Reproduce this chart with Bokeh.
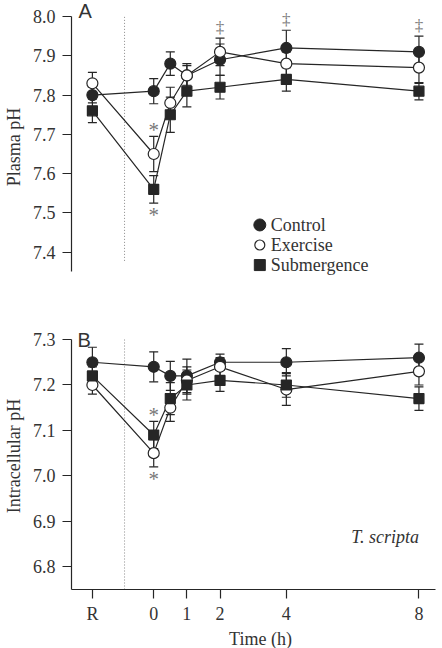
from bokeh.plotting import figure
from bokeh.layouts import column
from bokeh.models import (ColumnDataSource, Whisker, TeeHead, Label,
                          FixedTicker, PrintfTickFormatter)
from bokeh.core.properties import value
from bokeh.embed import file_html
from bokeh.resources import INLINE

# Sampling times after exercise/submergence (h); the resting sample "R" sits left of 0
hours = [0, 0.5, 1, 2, 4, 8]
REST_X = -1.85          # axis position of the resting sample
DIVIDER_X = -0.88       # dotted separator between rest and recovery
x_tick_values = [REST_X, 0, 1, 2, 4, 8]
x_tick_text = ["R", "0", "1", "2", "4", "8"]
X_RANGE = (-2.48, 8.65)

# Panel A: plasma pH (mean and s.e.m.), first value = rest
plasma_control = [7.80, 7.81, 7.88, 7.85, 7.89, 7.92, 7.91]
plasma_control_err = [0.02, 0.032, 0.03, 0.03, 0.04, 0.045, 0.04]
plasma_exercise = [7.83, 7.65, 7.78, 7.85, 7.91, 7.88, 7.87]
plasma_exercise_err = [0.028, 0.045, 0.04, 0.025, 0.035, 0.03, 0.04]
plasma_submergence = [7.76, 7.56, 7.75, 7.81, 7.82, 7.84, 7.81]
plasma_submergence_err = [0.03, 0.035, 0.045, 0.04, 0.03, 0.03, 0.022]

# Panel B: intracellular pH
intra_control = [7.25, 7.24, 7.22, 7.22, 7.25, 7.25, 7.26]
intra_control_err = [0.033, 0.033, 0.032, 0.037, 0.018, 0.03, 0.03]
intra_exercise = [7.20, 7.05, 7.15, 7.21, 7.24, 7.19, 7.23]
intra_exercise_err = [0.02, 0.03, 0.03, 0.03, 0.02, 0.035, 0.03]
intra_submergence = [7.22, 7.09, 7.17, 7.20, 7.21, 7.20, 7.17]
intra_submergence_err = [0.02, 0.03, 0.035, 0.033, 0.024, 0.027, 0.026]

plasma_ticks = [7.4, 7.5, 7.6, 7.7, 7.8, 7.9, 8.0]
intra_ticks = [6.8, 6.9, 7.0, 7.1, 7.2, 7.3]

# Significance marks: (series, time index, side)
plasma_stars = [("Exercise", 1, "above"), ("Submergence", 1, "below")]
intra_stars = [("Submergence", 1, "above"), ("Exercise", 1, "below")]
plasma_dagger_times = [2, 4, 8]

SERIF = "Liberation Serif"
INK = "#262626"
TEXT = "#333333"
MARK_GREY = "#777777"
xs = [REST_X] + hours


def style_axis(a):
    a.axis_line_color = INK
    a.axis_line_width = 1.2
    a.major_tick_line_color = INK
    a.major_tick_line_width = 1.2
    a.major_tick_out = 9
    a.major_tick_in = 0
    a.minor_tick_line_color = None
    a.major_label_text_font = SERIF
    a.major_label_text_font_size = "18px"
    a.major_label_text_color = TEXT
    a.axis_label_text_font = SERIF
    a.axis_label_text_font_size = "18px"
    a.axis_label_text_font_style = "normal"
    a.axis_label_text_color = TEXT


def make_panel(height, y_range, y_bounds, ticks, label, border_top,
               border_bottom, with_x_axis):
    p = figure(width=442, height=height, x_range=X_RANGE, y_range=y_range,
               output_backend="svg", toolbar_location=None,
               x_axis_location="below" if with_x_axis else None,
               min_border_left=69, min_border_right=2,
               min_border_top=border_top, min_border_bottom=border_bottom)
    p.outline_line_color = None
    p.grid.visible = False
    p.background_fill_color = "white"
    p.border_fill_color = "white"

    ax = p.yaxis[0]
    style_axis(ax)
    ax.bounds = y_bounds
    ax.ticker = FixedTicker(ticks=ticks)
    ax.formatter = PrintfTickFormatter(format="%.1f")
    ax.axis_label = label
    ax.major_label_standoff = 7
    ax.axis_label_standoff = 6
    if with_x_axis:
        xa = p.xaxis[0]
        style_axis(xa)
        xa.bounds = (X_RANGE[0], 8.5)
        xa.ticker = FixedTicker(ticks=x_tick_values)
        xa.major_label_overrides = {v: t for v, t in zip(x_tick_values, x_tick_text)}
        xa.major_label_standoff = 5
    return p


def draw_series(p, series, y_lo, y_hi):
    # dotted separator between the resting sample and the recovery period
    p.segment(x0=[DIVIDER_X], y0=[y_lo], x1=[DIVIDER_X], y1=[y_hi],
              line_color="#8a8a8a", line_width=1, line_dash="1 2")
    sources = {}
    for name, vals, errs, marker, fill in series:
        src = ColumnDataSource(dict(
            x=xs, y=vals,
            upper=[v + e for v, e in zip(vals, errs)],
            lower=[v - e for v, e in zip(vals, errs)]))
        sources[name] = src
        p.line("x", "y", source=src, line_color=INK, line_width=1.2)
    for name, vals, errs, marker, fill in series:
        w = Whisker(source=sources[name], base="x", upper="upper", lower="lower",
                    line_color=INK, line_width=1.2, level="underlay",
                    upper_head=TeeHead(size=9, line_color=INK, line_width=1.2),
                    lower_head=TeeHead(size=9, line_color=INK, line_width=1.2))
        p.add_layout(w)
    for name, vals, errs, marker, fill in series:
        size = 11 if marker == "circle" else 10
        p.scatter("x", "y", source=sources[name], marker=marker, size=size,
                  fill_color=fill, line_color=INK, line_width=1.2)
    return sources


def draw_stars(p, sources, stars):
    sx, sy, off = [], [], []
    for name, i, side in stars:
        d = sources[name].data
        sx.append(d["x"][i])
        if side == "above":
            sy.append(d["upper"][i]); off.append(-6)
        else:
            sy.append(d["lower"][i]); off.append(12)
    p.text(x=sx, y=sy, text=["*"] * len(sx), y_offset=off,
           text_font=value(SERIF), text_font_size="21px", text_color=MARK_GREY,
           text_align="center", text_baseline="alphabetic")


# ---------- Panel A ----------
pa = make_panel(300, (7.30, 8.0357), (7.35, 8.0), plasma_ticks, "Plasma pH",
                2, 9, False)
plasma_series = [
    ("Control", plasma_control, plasma_control_err, "circle", INK),
    ("Exercise", plasma_exercise, plasma_exercise_err, "circle", "white"),
    ("Submergence", plasma_submergence, plasma_submergence_err, "square", INK),
]
src_a = draw_series(pa, plasma_series, 7.378, 8.0)
draw_stars(pa, src_a, plasma_stars)

# double daggers above the highest error bar at each flagged time
dx, dy = [], []
for t in plasma_dagger_times:
    i = xs.index(t)
    dx.append(t)
    dy.append(max(src_a[n].data["upper"][i] for n, *_ in plasma_series))
pa.text(x=dx, y=dy, text=["\u2021"] * len(dx), y_offset=-11,
        text_font=value(SERIF), text_font_size="17px", text_color=MARK_GREY,
        text_align="center", text_baseline="alphabetic")

# legend
leg_x, leg_tx = 3.2, 3.53
leg_rows = [7.4694, 7.4184, 7.3673]
pa.scatter([leg_x], [leg_rows[0]], marker="circle", size=12, fill_color=INK, line_color=INK)
pa.scatter([leg_x], [leg_rows[1]], marker="circle", size=10, fill_color="white",
           line_color=INK, line_width=1.2)
pa.scatter([leg_x], [leg_rows[2]], marker="square", size=11, fill_color=INK, line_color=INK)
pa.text(x=[leg_tx] * 3, y=leg_rows, text=[s[0] for s in plasma_series],
        text_font=value(SERIF), text_font_size="18px", text_color=TEXT,
        text_align="left", text_baseline="middle")

pa.add_layout(Label(x=-2.27, y=8.013, text="A", text_font="Liberation Sans",
                    text_font_size="20px", text_color=TEXT,
                    text_align="left", text_baseline="alphabetic"))

# ---------- Panel B ----------
pb = make_panel(326, (6.75, 7.3375), (6.75, 7.3), intra_ticks, "Intracellular pH",
                22, 32, True)
intra_series = [
    ("Control", intra_control, intra_control_err, "circle", INK),
    ("Exercise", intra_exercise, intra_exercise_err, "circle", "white"),
    ("Submergence", intra_submergence, intra_submergence_err, "square", INK),
]
src_b = draw_series(pb, intra_series, 6.75, 7.3)
draw_stars(pb, src_b, intra_stars)

pb.add_layout(Label(x=-2.3, y=7.3, text="B", text_font="Liberation Sans",
                    text_font_size="20px", text_color=TEXT,
                    text_align="left", text_baseline="alphabetic"))
pb.add_layout(Label(x=8.0, y=6.866, text="T. scripta", text_font=SERIF,
                    text_font_style="italic", text_font_size="18px",
                    text_color=TEXT, text_align="right", text_baseline="middle"))

# ---------- shared time-axis title strip ----------
strip = figure(width=442, height=22, x_range=pb.x_range, y_range=(0, 22),
               output_backend="svg", toolbar_location=None,
               x_axis_location=None, y_axis_location=None,
               min_border_left=69, min_border_right=2,
               min_border_top=0, min_border_bottom=0)
strip.outline_line_color = None
strip.grid.visible = False
strip.add_layout(Label(x=3.22, y=10, text="Time (h)", text_font=SERIF,
                       text_font_size="18px", text_color=TEXT,
                       text_align="center", text_baseline="alphabetic"))

layout = column(pa, pb, strip, spacing=0)
open("out.html", "w").write(file_html(layout, INLINE))
